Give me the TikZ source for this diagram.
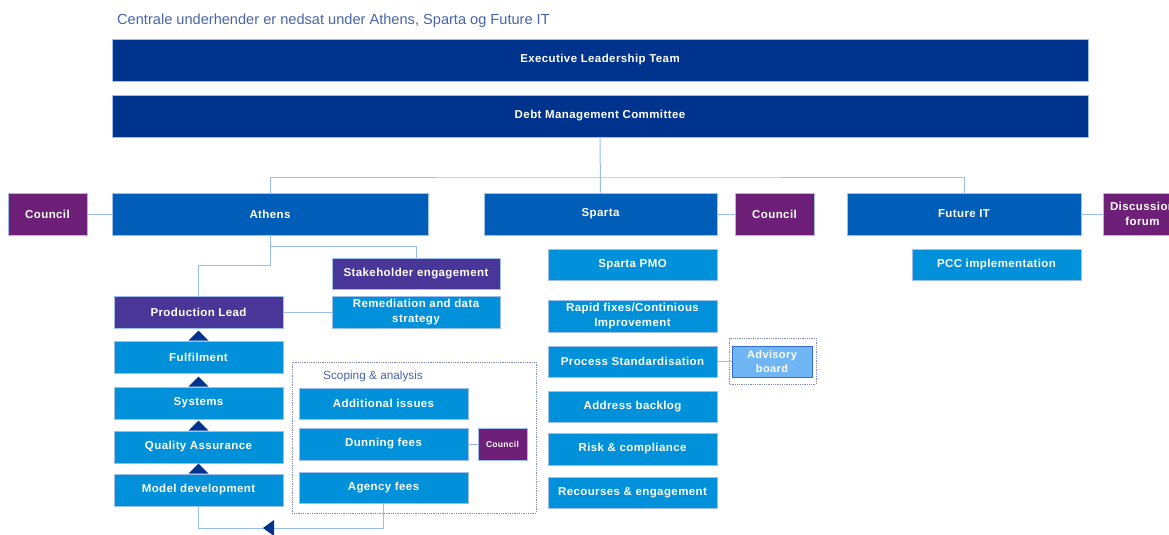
\documentclass[tikz,border=0pt]{standalone}
\usepackage{fontspec}
\setmainfont{Liberation Sans}
\newfontfamily\boxfont{Liberation Sans}[LetterSpace=3.5]
\definecolor{navy}{RGB}{0,51,141}
\definecolor{midblue}{RGB}{0,94,184}
\definecolor{lightblue}{RGB}{0,145,218}
\definecolor{councilpurple}{RGB}{110,32,120}
\definecolor{indigo}{RGB}{72,54,152}
\definecolor{advfill}{RGB}{112,182,244}
\definecolor{advedge}{RGB}{50,110,205}
\definecolor{linkblue}{RGB}{150,190,235}
\definecolor{edgeblue}{RGB}{160,190,235}
\definecolor{titleblue}{RGB}{70,100,170}
\definecolor{dashgray}{RGB}{130,140,190}
\tikzset{
  box/.style={rectangle, draw=edgeblue, line width=0.6pt, inner sep=0pt,
    text=white, align=center,
    font=\boxfont\bfseries\fontsize{11.5}{15}\selectfont},
  topbox/.style={box, fill=navy, minimum width=976pt, minimum height=42pt},
  mainbox/.style={box, fill=midblue, minimum height=42pt},
  subbox/.style={box, fill=lightblue, minimum width=169pt, minimum height=32pt},
  leadbox/.style={box, fill=indigo, minimum width=169pt, minimum height=32pt},
  councilbox/.style={box, fill=councilpurple, minimum width=79pt, minimum height=42pt},
  link/.style={draw=linkblue, line width=1pt},
  groupframe/.style={draw=dashgray, densely dotted, line width=0.8pt},
  flowtip/.style={fill=navy},
}
\begin{document}
\begin{tikzpicture}[x=1pt,y=-1pt]
\useasboundingbox (0,0) rectangle (1169,535);

% heading
\node[anchor=west, inner sep=0pt, text=titleblue, font=\fontsize{14.6}{16}\selectfont]
  (title) at (117,21) {Centrale underhender er nedsat under Athens, Sparta og Future IT};

% top level
\node[topbox] (elt) at (600,60) {Executive Leadership Team};
\node[topbox] (dmc) at (600,116) {Debt Management Committee};

% programmes
\node[mainbox, minimum width=316pt] (athens) at (270,214) {Athens};
\node[mainbox, minimum width=233pt] (sparta) at (600.5,214) {Sparta};
\node[mainbox, minimum width=234pt] (futit) at (964,214) {Future IT};
\node[councilbox] (councilA) at (47.5,214) {Council};
\node[councilbox] (councilS) at (774.5,214) {Council};
\node[councilbox] (disc) at (1142.5,214) {Discussion\\forum};

% Athens branch
\node[leadbox, minimum width=168pt, minimum height=31pt] (stake) at (416,273.5) {Stakeholder engagement};
\node[subbox, minimum width=168pt] (remed) at (416,312) {Remediation and data\\strategy};
\node[leadbox] (prodlead) at (198.5,312) {Production Lead};
\node[subbox] (fulf) at (198.5,357) {Fulfilment};
\node[subbox] (sys) at (198.5,403) {Systems};
\node[subbox] (qa) at (198.5,447) {Quality Assurance};
\node[subbox] (model) at (198.5,490) {Model development};

% scoping group
\draw[groupframe] (292,362) rectangle (536,513);
\node[anchor=west, inner sep=0pt, text=titleblue, font=\fontsize{11.8}{13}\selectfont]
  (scoping) at (323,376) {Scoping \& analysis};
\node[subbox, minimum height=31pt] (addiss) at (383.5,403.5) {Additional issues};
\node[subbox] (dunning) at (383.5,444) {Dunning fees};
\node[subbox, minimum height=31pt] (agency) at (383.5,487.5) {Agency fees};
\node[box, fill=councilpurple, minimum width=49pt, minimum height=32pt,
  font=\boxfont\bfseries\fontsize{8.5}{10}\selectfont] (councilD) at (502.5,444) {Council};

% Sparta branch
\node[subbox, minimum height=31pt] (pmo) at (632.5,264.5) {Sparta PMO};
\node[subbox] (rapid) at (632.5,316) {Rapid fixes/Continious\\Improvement};
\node[subbox, minimum height=31pt] (procstd) at (632.5,361.5) {Process Standardisation};
\node[subbox, minimum height=31pt] (backlog) at (632.5,406.5) {Address backlog};
\node[subbox] (risk) at (632.5,449) {Risk \& compliance};
\node[subbox, minimum height=31pt] (recourses) at (632.5,492.5) {Recourses \& engagement};
\draw[groupframe] (729,338) rectangle (816,384);
\node[box, fill=advfill, draw=advedge, line width=1pt, minimum width=80pt, minimum height=31pt,
  font=\boxfont\bfseries\fontsize{11}{14}\selectfont] (advisory) at (772,361.5) {Advisory\\board};

% Future IT branch
\node[subbox, minimum height=31pt] (pcc) at (996.5,264.5) {PCC implementation};

% connectors
\coordinate (bus) at (600,177);
\draw[link] (dmc.south) -- (sparta.north);
\draw[link] (athens.north) |- (bus) -| (futit.north);
\draw[link] (councilA.east) -- (athens.west);
\draw[link] (sparta.east) -- (councilS.west);
\draw[link] (futit.east) -- (disc.west);
\coordinate (split1) at (270,246);
\coordinate (split2) at (270,265.5);
\draw[link] (athens.south) -- (split1) -| (stake.north);
\draw[link] (split1) -- (split2) -| (prodlead.north);
\draw[link] (prodlead.east) -- (remed.west);
\draw[link] (dunning.east) -- (councilD.west);
\draw[link] (procstd.east) -- (advisory.west);
\coordinate (loop) at (198.5,528);
\draw[link] (model.south) -- (loop) -| (agency.south);

% upward flow markers
\foreach \n in {fulf,sys,qa,model}
  \fill[flowtip] (\n.north) ++(-10,0) -- ++(20,0) -- ++(-10,-10) -- cycle;
\fill[flowtip] (263,528) -- (274,520) -- (274,536) -- cycle;
\end{tikzpicture}
\end{document}
